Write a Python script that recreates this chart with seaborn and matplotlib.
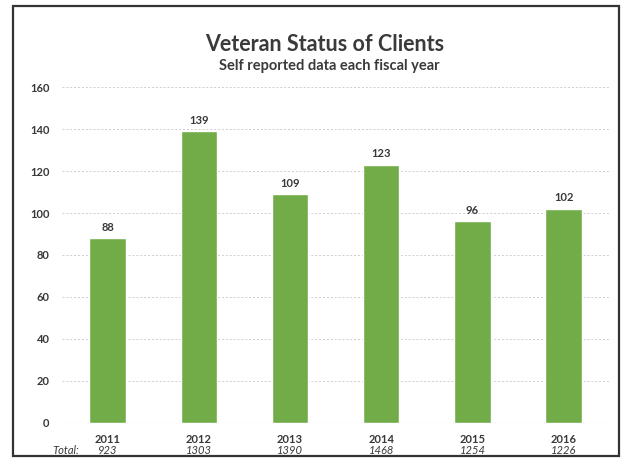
import matplotlib
matplotlib.use("Agg")
import matplotlib.pyplot as plt
import matplotlib.transforms as mtransforms
from matplotlib.patches import Rectangle
import seaborn as sns
import pandas as pd

years = ["2011", "2012", "2013", "2014", "2015", "2016"]
veterans = [88, 139, 109, 123, 96, 102]
totals = [923, 1303, 1390, 1468, 1254, 1226]
y_ticks = [0, 20, 40, 60, 80, 100, 120, 140, 160]

sns.set_theme(style="white")
plt.rcParams["font.family"] = ["Lato", "DejaVu Sans"]

df = pd.DataFrame({"year": years, "veterans": veterans})

fig = plt.figure(figsize=(6.21, 4.59), dpi=100)
ax = fig.add_axes([0.100, 0.079, 0.881, 0.731])

sns.barplot(data=df, x="year", y="veterans", color="#72AC48", saturation=1,
            width=0.4, ax=ax, zorder=3)

text_col = "#383838"
ax.set_ylim(0, 160)
ax.set_xlim(-0.5, len(years) - 0.5)
ax.set_yticks(y_ticks)
ax.set_yticklabels([str(t) for t in y_ticks], fontweight="bold",
                   fontsize=8, color=text_col)
ax.set_xticks(range(len(years)))
ax.set_xticklabels(years, fontweight="bold", fontsize=8, color=text_col)
ax.tick_params(axis="both", length=0)
ax.tick_params(axis="x", pad=8)
ax.tick_params(axis="y", pad=9)
ax.set_xlabel("")
ax.set_ylabel("")
for s in ax.spines.values():
    s.set_visible(False)

ax.yaxis.grid(True, linestyle=(0, (2, 2)), color="#cfcfcf", linewidth=0.7, zorder=0)
ax.set_axisbelow(True)
ax.axhline(0, color="#a0a0a0", linestyle=(0, (2, 2)), linewidth=0.8, zorder=1)

# value labels above bars
for container in ax.containers:
    ax.bar_label(container, labels=[str(v) for v in veterans], padding=4,
                 fontsize=8, fontweight="bold", color=text_col)

# fiscal-year totals under the year labels
trans = mtransforms.blended_transform_factory(ax.transData, ax.transAxes)
for i, t in enumerate(totals):
    ax.text(i, -0.083, str(t), transform=trans, ha="center", va="center",
            fontsize=8, fontstyle="italic", color=text_col)
ax.text(-0.31, -0.083, "Total:", transform=trans, ha="right", va="center",
        fontsize=8, fontstyle="italic", color=text_col)

fig.text(0.523, 0.903, "Veteran Status of Clients", ha="center", va="center",
         fontsize=15.5, fontweight="bold", color="#3a3a3a")
fig.text(0.53, 0.857, "Self reported data each fiscal year", ha="center",
         va="center", fontsize=10.5, fontweight="bold", color="#3a3a3a")

# outer chart frame
fig.patches.append(Rectangle((0.021, 0.006), 0.976, 0.982,
                             transform=fig.transFigure, fill=False,
                             edgecolor="#333333", linewidth=1.6))

fig.savefig("out.png", dpi=100)
